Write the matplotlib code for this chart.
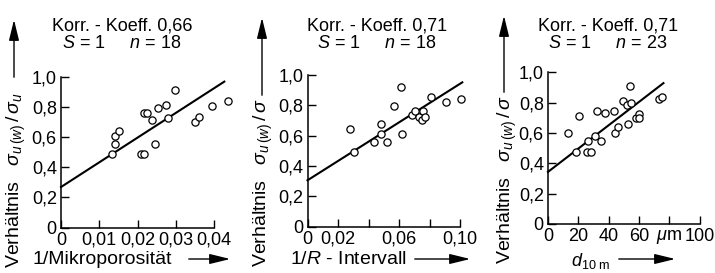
import matplotlib
matplotlib.use("Agg")
import matplotlib.pyplot as plt

plt.rcParams["font.family"] = ["Liberation Sans", "DejaVu Sans"]
plt.rcParams["mathtext.fontset"] = "custom"
plt.rcParams["mathtext.rm"] = "Liberation Sans"
plt.rcParams["mathtext.it"] = "Liberation Sans:italic"

W, H = 715, 273

# panel 1: 1/Mikroporositaet
x1 = [0.0133, 0.0142, 0.0142, 0.0152, 0.0208, 0.0218, 0.0217, 0.0226, 0.0239,
      0.0247, 0.0253, 0.0275, 0.0281, 0.0297, 0.0351, 0.0361, 0.0396, 0.0437]
y1 = [0.486, 0.554, 0.603, 0.640, 0.484, 0.484, 0.757, 0.755, 0.713,
      0.554, 0.792, 0.812, 0.724, 0.909, 0.700, 0.735, 0.805, 0.840]
fit1 = (0.268, 16.35, 0.0427)  # intercept, slope, x end

# panel 2: 1/R-Intervall
x2 = [0.0281, 0.0307, 0.0434, 0.0482, 0.0482, 0.0524, 0.0564, 0.0616, 0.0621,
      0.0682, 0.0706, 0.0730, 0.0750, 0.0759, 0.0772, 0.0807, 0.0908, 0.1004]
y2 = [0.646, 0.491, 0.557, 0.677, 0.610, 0.560, 0.798, 0.922, 0.610,
      0.734, 0.760, 0.723, 0.705, 0.760, 0.723, 0.853, 0.820, 0.842]
fit2 = (0.305, 6.37, 0.1015)

# panel 3: d10m in um
x3 = [13.1, 18.4, 20.4, 25.8, 28.7, 26.4, 30.9, 32.4, 35.3, 37.3, 43.6, 44.2,
      46.4, 49.3, 52.2, 53.1, 54.2, 54.9, 57.8, 59.8, 59.8, 73.3, 75.5]
y3 = [0.601, 0.475, 0.713, 0.473, 0.473, 0.550, 0.581, 0.749, 0.546, 0.731,
      0.749, 0.603, 0.640, 0.815, 0.784, 0.658, 0.910, 0.799, 0.702, 0.726,
      0.698, 0.826, 0.841]
fit3 = (0.344, 0.00769, 76.2)

yticks = [0, 0.2, 0.4, 0.6, 0.8, 1.0]
ylabels = ["0", "0,2", "0,4", "0,6", "0,8", "1,0"]

xt1 = [0, 0.01, 0.02, 0.03, 0.04]
xl1 = ["0", "0,01", "0,02", "0,03", "0,04"]
xt2 = [0, 0.02, 0.04, 0.06, 0.08, 0.10]
xl2 = ["0", "0,02", "", "0,06", "", "0,10"]
xt3 = [0, 20, 40, 60, 80, 100]
xl3 = ["0", "20", "40", "60", r"$\mu$m", "100"]

titles = ["Korr. - Koeff. 0,66", "Korr. - Koeff. 0,71", "Korr. - Koeff. 0,71"]
sub = [r"$S$ = 1     $n$ = 18", r"$S$ = 1     $n$ = 18", r"$S$ = 1     $n$ = 23"]
ylab = [r"Verhältnis   $\sigma_{u\,(w)}\,/\,\sigma_u$",
        r"Verhältnis   $\sigma_{u\,(w)}\,/\,\sigma$",
        r"Verhältnis   $\sigma_{u\,(w)}\,/\,\sigma$"]
xlab = ["1/Mikroporosität", r"1/$R$ - Intervall", r"$d_{10\ \mathrm{m}}$"]


def fx(x):
    return x / W


def fy(y):
    return 1 - y / H


fig = plt.figure(figsize=(W / 100, H / 100), dpi=100)

# axes boxes in pixels: left, right, bottom(y of 0), top(y of 1.0)
boxes = [(61, 214, 227.5, 76.5), (307.5, 460, 226.5, 75), (548, 699.5, 224, 72.5)]
data = [(x1, y1, fit1, xt1, xl1, 0.04), (x2, y2, fit2, xt2, xl2, 0.10),
        (x3, y3, fit3, xt3, xl3, 100)]
title_x = [122, 377, 608]
ylab_x = [16, 263, 507]
ylab_bottom = [268, 267, 264]
yarrow = [(14, 80, 17), (262, 98, 15), (504, 95, 13)]
xlab_pos = [(33, 259), (290, 259), (571, 261)]
xarrow = [(186, 233, 259), (412, 473, 259), (616, 678, 259)]
xlab_size = [14, 14, 13]

for i in range(3):
    l, r, b, t = boxes[i]
    ax = fig.add_axes([fx(l), fy(b), (r - l) / W, (b - t) / H])
    xs, ys, (b0, m, xe), xt, xl, xmax = data[i]
    ax.plot(xs, ys, "o", mfc="white", mec="black", ms=5.2, mew=0.9,
            clip_on=False, zorder=3)
    ax.plot([0, xe], [b0, b0 + m * xe], color="black", lw=1.5, clip_on=False,
            zorder=2)
    ax.set_xlim(0, xmax)
    ax.set_ylim(0, 1.0)
    ax.set_xticks(xt)
    ax.set_xticklabels(xl)
    ax.set_yticks(yticks)
    ax.set_yticklabels(ylabels)
    for s in ["top", "right"]:
        ax.spines[s].set_visible(False)
    for s in ["left", "bottom"]:
        ax.spines[s].set_linewidth(1.1)
    ax.tick_params(direction="in", length=5.5, width=1.0, labelsize=13,
                   pad=3)
    ax.patch.set_alpha(0)

    fig.text(fx(title_x[i]), fy(26), titles[i], ha="center", va="center",
             fontsize=13)
    fig.text(fx(title_x[i]), fy(44), sub[i], ha="center", va="center",
             fontsize=13)

    fig.text(fx(ylab_x[i]), fy(ylab_bottom[i]), ylab[i], rotation=90,
             ha="center", va="bottom", fontsize=14)
    ax_x, y0, y1_ = yarrow[i]
    fig.add_artist(matplotlib.patches.FancyArrowPatch(
        (fx(ax_x), fy(y0)), (fx(ax_x), fy(y1_)), transform=fig.transFigure,
        arrowstyle="-|>,head_length=0.9,head_width=0.22", mutation_scale=14,
        lw=1.0, color="black"))

    fig.text(fx(xlab_pos[i][0]), fy(xlab_pos[i][1]), xlab[i], ha="left",
             va="center", fontsize=xlab_size[i])
    xa0, xa1, ya = xarrow[i]
    fig.add_artist(matplotlib.patches.FancyArrowPatch(
        (fx(xa0), fy(ya)), (fx(xa1), fy(ya)), transform=fig.transFigure,
        arrowstyle="-|>,head_length=0.9,head_width=0.22", mutation_scale=14,
        lw=1.0, color="black"))

fig.savefig("out.png", dpi=100)
